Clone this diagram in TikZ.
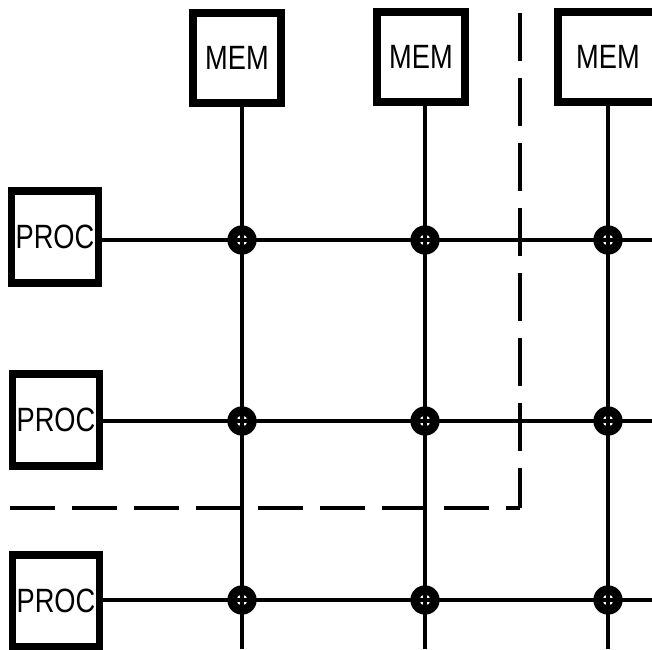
\documentclass[tikz,border=0pt]{standalone}
\usepackage{fontspec}
\setmainfont{Liberation Sans}
\usetikzlibrary{positioning}
\tikzset{
  unitbox/.style={draw,line width=6pt,inner sep=0pt,minimum width=2.64cm,minimum height=2.7cm,
    font=\fontsize{25}{26}\selectfont},
  xpt/.style={circle,fill=black,inner sep=0pt,minimum size=0.88cm,
    path picture={\fill[white] (path picture bounding box.center) circle (0.165cm);}},
  bus/.style={line width=2.7pt},
  split/.style={line width=3.4pt,dash pattern=on 1.44cm off 0.51cm},
  splith/.style={line width=3.4pt,dash pattern=on 1.35cm off 0.51cm}
}
\newcommand{\tall}[1]{\raisebox{-0.1cm}{\scalebox{0.93}[1.15]{#1}}}

\begin{document}
\begin{tikzpicture}[x=0.03cm,y=-0.03cm]
  \useasboundingbox (0,0) rectangle (652,649);
  \clip (0,0) rectangle (652,649);
  \coordinate (bot) at (0,649);
  \coordinate (rgt) at (652,0);
  % switch points
  \foreach \r/\y in {1/240,2/421,3/600}
    \foreach \c/\x in {1/242,2/425,3/608}
      \node[xpt] (x\r\c) at (\x,\y) {};
  % memories
  \node[unitbox] (mem1) at (237,58) {\tall{MEM}};
  \node[unitbox] (mem2) at (421,57) {\tall{MEM}};
  \node[unitbox,minimum width=3cm] (mem3) at (608,57) {\tall{MEM}};
  % processors
  \node[unitbox,minimum width=2.61cm,minimum height=2.76cm] (proc1) at (55,237) {\tall{PROC}};
  \node[unitbox,minimum width=2.61cm,minimum height=2.76cm] (proc2) at (56,420) {\tall{PROC}};
  \node[unitbox,minimum width=2.61cm,minimum height=2.76cm] (proc3) at (56,601) {\tall{PROC}};
  % buses
  \foreach \c in {1,2,3}
    \draw[bus] (mem\c.south -| x1\c) -- (x1\c.center) -- (x2\c.center) -- (x3\c.center) -- (x3\c |- bot);
  \foreach \r in {1,2,3}
    \draw[bus] (proc\r.east |- x\r1) -- (x\r1.center) -- (x\r2.center) -- (x\r3.center) -- (x\r3 -| rgt);
  % partition
  \coordinate (corner) at (520,508);
  \draw[split] (520,13) -- (corner);
  \draw[splith] (10,508) -- (corner);
\end{tikzpicture}
\end{document}
